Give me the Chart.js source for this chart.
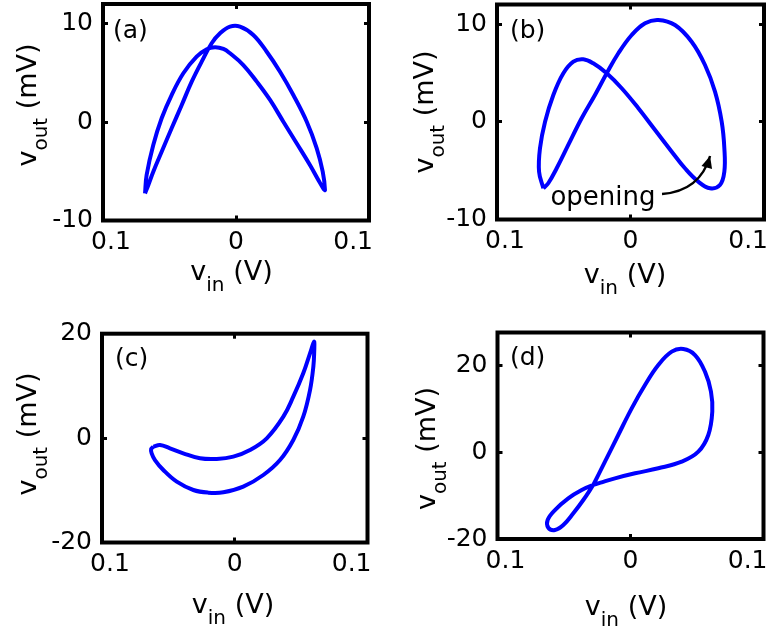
<!DOCTYPE html>
<html>
<head>
<meta charset="utf-8">
<script src="https://cdn.jsdelivr.net/npm/chart.js@4.4.1/dist/chart.umd.min.js"></script>
<style>
html, body { margin: 0; padding: 0; background: #fff; }
#wrap { position: relative; width: 775px; height: 628px; }
canvas { position: absolute; }
</style>
</head>
<body>
<div id="wrap">
  <canvas id="pa" width="387" height="314" style="left:0;top:0"></canvas>
  <canvas id="pb" width="388" height="314" style="left:387px;top:0"></canvas>
  <canvas id="pc" width="387" height="314" style="left:0;top:314px"></canvas>
  <canvas id="pd" width="388" height="314" style="left:387px;top:314px"></canvas>
</div>
<script>
//Shared axis ticks
const xTicks = [-0.1, 0, 0.1];
const xTickLabels = ['0.1', '0', '0.1'];

//(a) input vs output
const aVin = [-0.0684, -0.0672, -0.0622, -0.0559, -0.0484, -0.0396, -0.0296, -0.0220, -0.0158, -0.0095, -0.0045, 0.0055, 0.0156, 0.0256, 0.0356, 0.0456, 0.0556, 0.0619, 0.0656, 0.0669, 0.0652, 0.0607, 0.0532, 0.0431, 0.0331, 0.0231, 0.0130, 0.0030, -0.0045, -0.0120, -0.0183, -0.0258, -0.0333, -0.0408, -0.0484, -0.0559, -0.0622, -0.0659];
const aVout = [-7.25, -5.38, -2.33, 0.39, 2.75, 4.96, 6.65, 7.40, 7.60, 7.43, 6.99, 5.80, 4.11, 2.25, 0.04, -2.15, -4.36, -5.88, -6.73, -6.90, -5.04, -2.66, 0.04, 2.75, 5.12, 7.15, 8.85, 9.70, 9.70, 9.02, 8.01, 6.14, 4.11, 1.74, -0.63, -3.01, -5.04, -6.39];
const aTicks = [-10, 0, 10];

//(b)
const bVin = [-0.0653, -0.0685, -0.0678, -0.0640, -0.0578, -0.0503, -0.0428, -0.0354, -0.0279, -0.0178, -0.0066, 0.0059, 0.0184, 0.0309, 0.0408, 0.0508, 0.0596, 0.0670, 0.0703, 0.0703, 0.0683, 0.0633, 0.0558, 0.0458, 0.0333, 0.0208, 0.0109, 0.0009, -0.0091, -0.0178, -0.0266, -0.0366, -0.0466, -0.0553, -0.0616];
const bVout = [-6.80, -5.10, -2.71, 0.01, 2.74, 4.96, 6.15, 6.39, 5.98, 4.96, 3.43, 1.38, -0.84, -3.06, -4.76, -6.13, -6.80, -6.47, -5.10, -2.71, 0.01, 3.08, 5.81, 8.19, 9.90, 10.42, 10.08, 8.88, 7.01, 4.96, 2.74, 0.36, -2.37, -4.76, -6.29];
const bTicks = [-10, 0, 10];

//(c)
const cVin = [-0.0613, -0.0563, -0.0488, -0.0388, -0.0262, -0.0136, -0.0011, 0.0115, 0.0241, 0.0366, 0.0441, 0.0516, 0.0567, 0.0592, 0.0599, 0.0599, 0.0592, 0.0567, 0.0516, 0.0441, 0.0341, 0.0215, 0.0064, -0.0086, -0.0199, -0.0312, -0.0437, -0.0538, -0.0601, -0.0626, -0.0630];
const cVout = [-1.65, -1.32, -1.95, -2.91, -3.87, -4.00, -3.56, -2.28, -0.04, 4.10, 7.93, 12.41, 16.24, 18.16, 18.47, 16.88, 13.68, 9.21, 4.10, -0.36, -4.20, -7.07, -9.31, -10.39, -10.45, -9.94, -8.35, -6.11, -4.20, -2.91, -2.10];
const cTicks = [-20, 0, 20];

//(d)
const dVin = [-0.0280, -0.0192, -0.0092, 0.0009, 0.0109, 0.0209, 0.0310, 0.0397, 0.0485, 0.0560, 0.0605, 0.0615, 0.0585, 0.0510, 0.0385, 0.0209, 0.0034, -0.0117, -0.0217, -0.0280, -0.0367, -0.0468, -0.0568, -0.0623, -0.0618, -0.0568, -0.0505, -0.0430, -0.0355];
const dVout = [-7.58, -2.22, 3.92, 10.06, 15.42, 20.02, 23.09, 23.70, 22.32, 18.49, 13.90, 9.28, 3.92, 0.08, -2.22, -3.74, -4.89, -6.04, -6.96, -7.58, -8.73, -10.64, -13.33, -15.63, -17.40, -17.93, -16.78, -14.09, -11.03];
const dTicks = [-20, 0, 20];

const FONT = "'DejaVu Sans', sans-serif";
Chart.defaults.font.family = FONT;
Chart.defaults.color = '#000';
Chart.defaults.animation = false;

//Draws "v" + subscript + rest, centred on cx
function drawSub(ctx, main, sub, rest, cx, base) {
    ctx.font = '27px ' + FONT;
    const w1 = ctx.measureText(main).width;
    const w3 = ctx.measureText(rest).width;
    ctx.font = '20px ' + FONT;
    const w2 = ctx.measureText(sub).width;
    let x = cx - (w1 + w2 + w3) / 2;
    ctx.textAlign = 'left';
    ctx.font = '27px ' + FONT;
    ctx.fillText(main, x, base);
    ctx.font = '20px ' + FONT;
    ctx.fillText(sub, x + w1, base + 11);
    ctx.font = '27px ' + FONT;
    ctx.fillText(rest, x + w1 + w2, base);
}

//Frame, panel letter, axis titles and the note
const panelText = {
    id: 'panelText',
    afterDraw(chart, args, o) {
        const ctx = chart.ctx;
        const a = chart.chartArea;
        ctx.save();
        ctx.lineWidth = 4;
        ctx.strokeStyle = '#000';
        ctx.lineJoin = 'miter';
        ctx.strokeRect(a.left, a.top, a.right - a.left, a.bottom - a.top);

        ctx.fillStyle = '#000';
        ctx.textBaseline = 'alphabetic';
        ctx.textAlign = 'left';
        ctx.font = '25px ' + FONT;
        ctx.fillText(o.letter, o.letterPos[0], o.letterPos[1]);

        drawSub(ctx, 'v', 'in', ' (V)', o.xlab[0], o.xlab[1]);

        ctx.save();
        ctx.translate(o.ylab[0], o.ylab[1]);
        ctx.rotate(-Math.PI / 2);
        drawSub(ctx, 'v', 'out', ' (mV)', 0, 0);
        ctx.restore();

        if (o.note) {
            const sx = chart.scales.x, sy = chart.scales.y;
            const px = p => [sx.getPixelForValue(p[0]), sy.getPixelForValue(p[1])];
            ctx.font = '26px ' + FONT;
            const t = px(o.note.at);
            ctx.fillText(o.note.text, t[0], t[1]);

            const s = px(o.note.arrow[0]), c = px(o.note.arrow[1]), e = px(o.note.arrow[2]);
            ctx.lineWidth = 2.4;
            ctx.beginPath();
            ctx.moveTo(s[0], s[1]);
            ctx.quadraticCurveTo(c[0], c[1], e[0], e[1]);
            ctx.stroke();
            const ang = Math.atan2(e[1] - c[1], e[0] - c[0]);
            ctx.beginPath();
            ctx.moveTo(e[0], e[1]);
            ctx.lineTo(e[0] - 12 * Math.cos(ang) + 5.5 * Math.sin(ang), e[1] - 12 * Math.sin(ang) - 5.5 * Math.cos(ang));
            ctx.lineTo(e[0] - 12 * Math.cos(ang) - 5.5 * Math.sin(ang), e[1] - 12 * Math.sin(ang) + 5.5 * Math.cos(ang));
            ctx.closePath();
            ctx.fill();
        }
        ctx.restore();
    }
};

const tickGrid = {
    display: true,
    drawOnChartArea: false,
    drawTicks: true,
    tickLength: -5,
    tickWidth: 3,
    color: '#000'
};

function xLabel(i) {
    //pads the outer labels so they sit where the reference has them
    if (i == 0) return '  ' + xTickLabels[i];
    if (i == xTickLabels.length - 1) return xTickLabels[i] + '    ';
    return xTickLabels[i];
}

//Fixed axis size, and no label overhang pushing the plot area around
function fixSize(dim, val) {
    return s => {
        s[dim] = val;
        s.paddingTop = 0;
        s.paddingBottom = 0;
        s.paddingLeft = 0;
        s.paddingRight = 0;
    };
}

function makePanel(id, vin, vout, yTicks, p) {
    const pts = vin.map((v, i) => ({ x: v, y: vout[i] }));
    pts.push(pts[0]);

    const setX = s => { s.ticks = xTicks.map(v => ({ value: v })); };
    const setY = s => { s.ticks = yTicks.map(v => ({ value: v })); };

    return new Chart(document.getElementById(id), {
        type: 'scatter',
        data: {
            datasets: [{
                data: pts,
                showLine: true,
                borderColor: '#0000ff',
                borderWidth: 4,
                borderJoinStyle: 'round',
                pointRadius: 0,
                tension: 0.4,
                fill: false
            }]
        },
        options: {
            responsive: false,
            events: [],
            layout: { padding: p.pad },
            plugins: {
                legend: { display: false },
                tooltip: { enabled: false },
                panelText: p
            },
            scales: {
                x: {
                    type: 'linear', position: 'bottom', min: -0.1, max: 0.1,
                    afterBuildTicks: setX,
                    afterFit: fixSize('height', 50),
                    ticks: {
                        padding: 12, maxRotation: 0, autoSkip: false,
                        font: { size: 25 },
                        callback: (v, i) => xLabel(i)
                    },
                    grid: tickGrid,
                    border: { display: false }
                },
                x2: {
                    type: 'linear', position: 'top', min: -0.1, max: 0.1,
                    afterBuildTicks: setX,
                    afterFit: fixSize('height', 0),
                    ticks: { display: false },
                    grid: tickGrid,
                    border: { display: false }
                },
                y: {
                    type: 'linear', position: 'left', min: p.yMin, max: p.yMax,
                    afterBuildTicks: setY,
                    afterFit: fixSize('width', p.yWidth),
                    ticks: {
                        padding: 15,
                        font: { size: 25 },
                        callback: v => String(v)
                    },
                    grid: tickGrid,
                    border: { display: false }
                },
                y2: {
                    type: 'linear', position: 'right', min: p.yMin, max: p.yMax,
                    afterBuildTicks: setY,
                    afterFit: fixSize('width', 0),
                    ticks: { display: false },
                    grid: tickGrid,
                    border: { display: false }
                }
            }
        },
        plugins: [panelText]
    });
}

makePanel('pa', aVin, aVout, aTicks, {
    yMin: -10, yMax: 12, yWidth: 103,
    pad: { left: 0, top: 4, right: 18, bottom: 43.5 },
    letter: '(a)', letterPos: [113, 38],
    xlab: [231.5, 280], ylab: [36, 105]
});

makePanel('pb', bVin, bVout, bTicks, {
    yMin: -10, yMax: 12, yWidth: 110,
    pad: { left: 0, top: 4.5, right: 11, bottom: 44.5 },
    letter: '(b)', letterPos: [123, 38],
    xlab: [238, 283], ylab: [46, 112],
    note: {
        text: 'opening',
        at: [-0.060, -8.51],
        arrow: [[0.0236, -7.39], [0.0521, -7.08], [0.0596, -3.50]]
    }
});

makePanel('pc', cVin, cVout, cTicks, {
    yMin: -20, yMax: 20, yWidth: 102,
    pad: { left: 0, top: 19.7, right: 19.5, bottom: 35.5 },
    letter: '(c)', letterPos: [115, 51.5],
    xlab: [233, 299], ylab: [36, 120]
});

makePanel('pd', dVin, dVout, dTicks, {
    yMin: -20, yMax: 27.5, yWidth: 110.5,
    pad: { left: 0, top: 18.5, right: 11.5, bottom: 39 },
    letter: '(d)', letterPos: [123, 50.5],
    xlab: [239, 301], ylab: [47.5, 134.5]
});
</script>
</body>
</html>
